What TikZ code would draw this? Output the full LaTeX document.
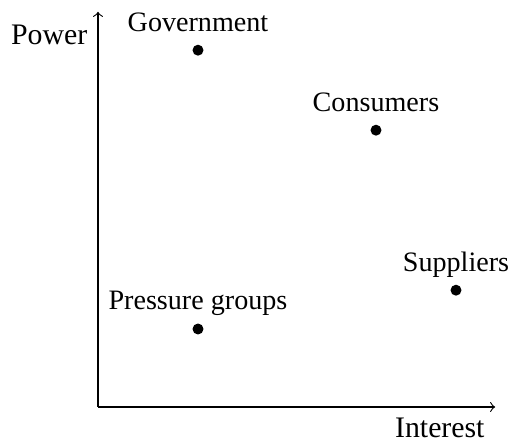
\documentclass[tikz,border=0pt]{standalone}
\usepackage{fontspec}
\setmainfont{Liberation Serif}
\begin{document}
\begin{tikzpicture}[x=0.5cm,y=0.5cm,
  pt/.style={circle,fill=black,inner sep=0pt,minimum size=3.9pt},
  lbl/.style={anchor=base},
  axis/.style={->,line width=0.4pt}]
\useasboundingbox (-2.45,-0.85) rectangle (10.425,10.175);
\coordinate (O) at (0,0);
\coordinate (X) at (9.93,0);
\coordinate (Y) at (0,9.88);
\draw[axis] (O) -- (X);
\draw[axis] (O) -- (Y);
\node[anchor=base east,inner sep=0pt,font=\fontsize{10.6}{12}\selectfont] (xl) at ([xshift=-3.6pt,yshift=-10.8pt]X) {Interest};
\node[anchor=base east,inner sep=0pt,font=\fontsize{10.6}{12}\selectfont] (yl) at ([xshift=-3.6pt,yshift=-11.7pt]Y) {Power};
\node[pt] (gov) at (2.5,8.92) {};
\node[pt] (con) at (6.95,6.92) {};
\node[pt] (sup) at (8.95,2.92) {};
\node[pt] (pre) at (2.5,1.95) {};
\node[lbl] (govl) at ([yshift=19*0.356pt]gov.center) {Government};
\node[lbl] (conl) at ([yshift=19*0.356pt]con.center) {Consumers};
\node[lbl] (supl) at ([yshift=19*0.356pt]sup.center) {Suppliers};
\node[lbl] (prel) at ([yshift=19*0.356pt]pre.center) {Pressure groups};
\end{tikzpicture}
\end{document}
